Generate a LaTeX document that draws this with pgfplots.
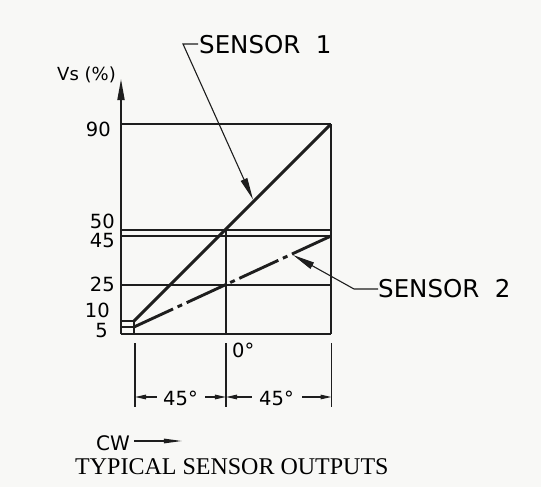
\documentclass[border=0pt]{standalone}
\usepackage{pgfplots}
\pgfplotsset{compat=1.18}
\usetikzlibrary{arrows.meta}
\usepackage{fontspec}
\setmainfont{Liberation Serif}
\newfontfamily\iso{DejaVu Sans}
\definecolor{ink}{RGB}{30,30,30}
\definecolor{paper}{RGB}{248,248,246}
\newcommand{\numf}{\iso\fontsize{19.5bp}{21bp}\selectfont}
\newcommand{\biglbl}{\iso\fontsize{24.5bp}{26bp}\selectfont}
\begin{document}
\begin{tikzpicture}
\fill[paper] (-121bp,-153bp) rectangle (420bp,334bp);
\begin{axis}[
  x=1bp, y=1bp,
  xmin=-105, xmax=105, ymin=0, ymax=255,
  axis x line*=bottom, axis y line=left,
  xtick=\empty, ytick=\empty,
  enlargelimits=false, clip=false,
  x axis line style={line width=1.8bp, ink, -},
  y axis line style={line width=1.8bp, ink, -{Triangle[length=21bp,width=7bp]}},
  every axis plot/.append style={ink},
]
% frame and reference lines (drawing units)
\addplot[line width=1.2bp] coordinates {(105,0) (105,210)};
\addplot[line width=1.2bp] coordinates {(-105,210) (105,210)};
\addplot[line width=1.2bp] coordinates {(-105,104) (105,104)};
\addplot[line width=1.2bp] coordinates {(-105,98) (105,98)};
\addplot[line width=1.2bp] coordinates {(-105,49) (105,49)};
\addplot[line width=1.2bp] coordinates {(-105,13) (-92,13)};
\addplot[line width=1.2bp] coordinates {(-105,7) (-92,7)};
\addplot[line width=1.2bp] coordinates {(-92,0) (-92,13)};
\addplot[line width=1.2bp] coordinates {(0,0) (0,104)};
% sensors
\addplot[line width=2.9bp] coordinates {(-92,13) (105,210)};
\addplot[line width=2.9bp, dash pattern=on 43bp off 5bp on 5bp off 5bp] coordinates {(-92,7) (105,98)};
% leaders
\addplot[line width=1.1bp, -{Triangle[length=22bp,width=7bp]}] coordinates {(-28,290) (-43,290) (27,134.5)};
\addplot[line width=1.1bp, -{Triangle[length=22bp,width=7bp]}] coordinates {(152,45) (128,45) (67,79)};
\node[anchor=base west, inner sep=0pt] at (axis cs:-27,281) {\biglbl SENSOR\ \ 1};
\node[anchor=base west, inner sep=0pt] at (axis cs:152,37) {\biglbl SENSOR\ \ 2};
% y labels
\node[anchor=base east, inner sep=0pt] at (axis cs:-110,254) {\iso\fontsize{18bp}{20bp}\selectfont Vs (\%)};
\node[anchor=east, inner sep=0pt] at (axis cs:-115,205) {\numf 90};
\node[anchor=east, inner sep=0pt] at (axis cs:-111,113) {\numf 50};
\node[anchor=east, inner sep=0pt] at (axis cs:-111,93) {\numf 45};
\node[anchor=east, inner sep=0pt] at (axis cs:-111,50) {\numf 25};
\node[anchor=east, inner sep=0pt] at (axis cs:-116,23.5) {\numf 10};
\node[anchor=east, inner sep=0pt] at (axis cs:-118,3.5) {\numf 5};
% dimension lines
\addplot[line width=1.2bp] coordinates {(-91,-9) (-91,-73)};
\addplot[line width=1.2bp] coordinates {(0,-9) (0,-73)};
\addplot[line width=1.2bp] coordinates {(105.5,-9) (105.5,-73)};
\addplot[line width=1.2bp, {Triangle[length=11bp,width=4.5bp]}-] coordinates {(-91,-63) (-69,-63)};
\addplot[line width=1.2bp, -{Triangle[length=11bp,width=4.5bp]}] coordinates {(-21,-63) (0,-63)};
\addplot[line width=1.2bp, {Triangle[length=11bp,width=4.5bp]}-] coordinates {(0,-63) (26,-63)};
\addplot[line width=1.2bp, -{Triangle[length=11bp,width=4.5bp]}] coordinates {(76,-63) (105.5,-63)};
\node[anchor=center, inner sep=0pt] at (axis cs:-45.5,-64) {\numf 45°};
\node[anchor=center, inner sep=0pt] at (axis cs:50.5,-64) {\numf 45°};
\node[anchor=base west, inner sep=0pt] at (axis cs:6,-23) {\numf 0°};
% CW arrow
\addplot[line width=1.2bp, -{Triangle[length=18bp,width=4.5bp]}] coordinates {(-92,-107) (-44,-107)};
\node[anchor=base east, inner sep=0pt] at (axis cs:-96,-116) {\iso\fontsize{20bp}{22bp}\selectfont CW};
% title
\node[anchor=base west, inner sep=0pt] at (axis cs:-151,-140) {\fontsize{24bp}{26bp}\selectfont TYPICAL SENSOR OUTPUTS};
\end{axis}
\pgfresetboundingbox
\path[use as bounding box] (-121bp,-153bp) rectangle (420bp,334bp);
\end{tikzpicture}
\end{document}
